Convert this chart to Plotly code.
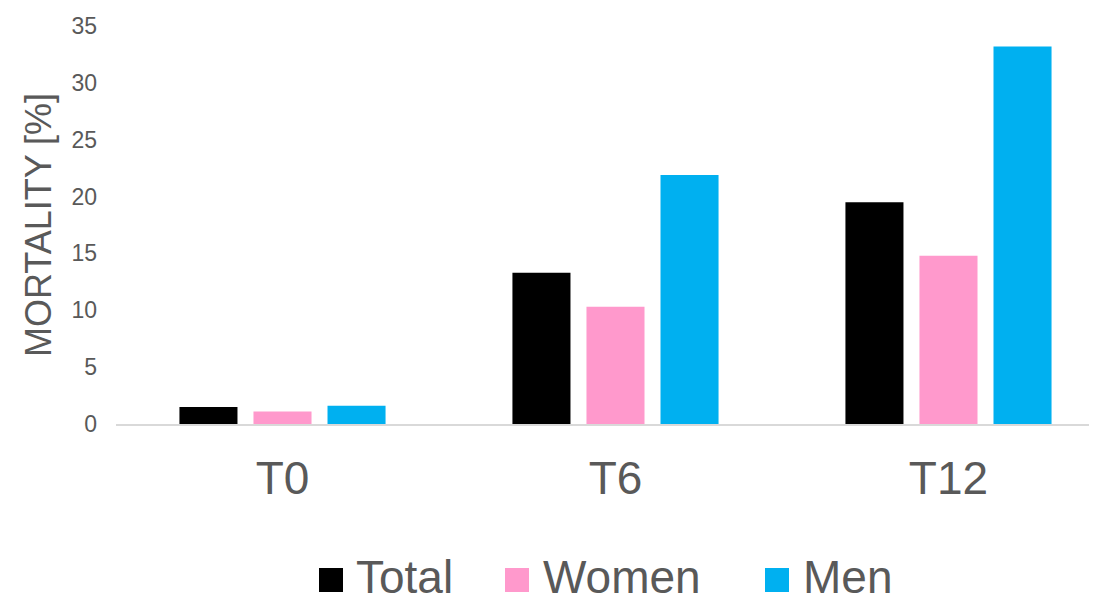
import plotly.graph_objects as go

categories = ["T0", "T6", "T12"]
series_names = ["Total", "Women", "Men"]
total = [1.5, 13.3, 19.5]
women = [1.1, 10.3, 14.8]
men = [1.6, 21.9, 33.2]
colors = ["#000000", "#FF99CC", "#00B0F0"]
y_ticks = [0, 5, 10, 15, 20, 25, 30, 35]

OFF = 8  # page body margin in the browser
W, H = 1097 - OFF, 599 - OFF
L, R, T, B = 116 - OFF, 0, 26 - OFF, 175
PW, PH = W - L - R, H - T - B

def px_x(px):
    # absolute page pixel -> paper coordinate
    return (px - OFF - L) / PW

def px_y(py):
    return (H - B - (py - OFF)) / PH

fig = go.Figure()
for name, vals, col in zip(series_names, [total, women, men], colors):
    fig.add_trace(go.Bar(x=categories, y=vals, name=name, marker_color=col,
                         marker_line_width=0, showlegend=False))

# manual legend (large square keys like the original)
legend_sq_left = [319, 505, 765]
legend_txt_left = [354, 541, 801]
legend_sq_cy = 580
legend_txt_cy = 577
sq = 24
shapes = []
annotations = []
for name, col, sx, tx in zip(series_names, colors, legend_sq_left, legend_txt_left):
    shapes.append(dict(type="rect", xref="paper", yref="paper",
                       x0=px_x(sx), x1=px_x(sx + sq),
                       y0=px_y(legend_sq_cy + sq / 2), y1=px_y(legend_sq_cy - sq / 2),
                       fillcolor=col, line_width=0))
    annotations.append(dict(text=name, xref="paper", yref="paper",
                            x=px_x(tx), y=px_y(legend_txt_cy), xanchor="left", yanchor="middle",
                            showarrow=False,
                            font=dict(family="Liberation Sans, Arial", size=46, color="#595959")))

fig.update_layout(
    width=W, height=H,
    margin=dict(l=L, r=R, t=T, b=B, pad=0),
    paper_bgcolor="white", plot_bgcolor="white",
    barmode="group", bargap=0.333, bargroupgap=0.216,
    font=dict(family="Liberation Sans, Arial", color="#595959"),
    shapes=shapes, annotations=annotations,
    showlegend=False,
)
fig.update_xaxes(type="category", range=[-0.5, 2.446], showline=True, linecolor="#D9D9D9",
                 linewidth=2, showgrid=False, ticks="", zeroline=False,
                 tickfont=dict(size=46, color="#595959"), ticklabelstandoff=13)
fig.update_yaxes(range=[0, 35], tickvals=y_ticks, showgrid=False, zeroline=False,
                 showline=False, ticks="", tickfont=dict(size=23, color="#595959"),
                 ticklabelstandoff=18,
                 title=dict(text="MORTALITY [%]", font=dict(size=36, color="#595959"), standoff=8))

fig.write_html("out.html")
